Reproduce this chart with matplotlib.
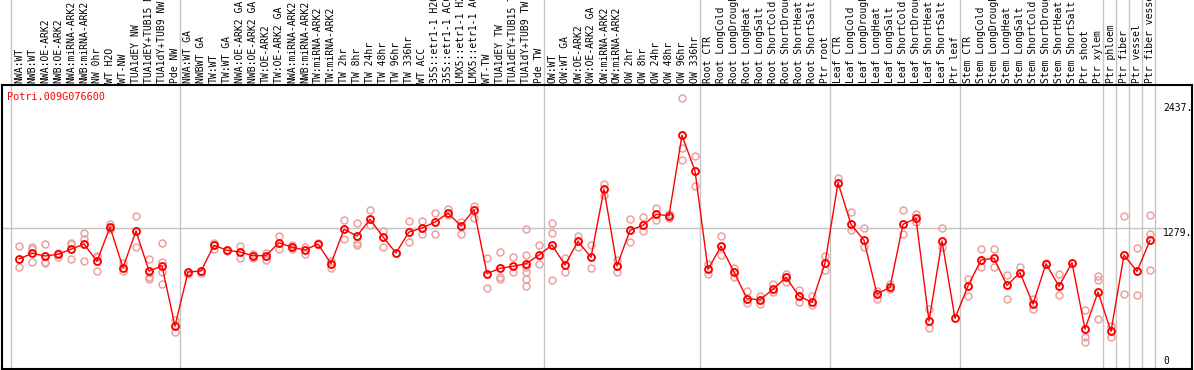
import matplotlib
matplotlib.use("Agg")
import matplotlib.pyplot as plt
import matplotlib.transforms as mtransforms

gene = "Potri.009G076600"

samples = [
    "NWA:WT", "NWB:WT", "NWA:OE-ARK2", "NWB:OE-ARK2", "NWA:miRNA-ARK2", "NWB:miRNA-ARK2",
    "NW 0hr", "WT H2O", "WT-NW", "TUA1dEY NW", "TUA1dEY+TUB15 NW", "TUA1dY+TUB9 NW", "Pde NW",
    "NWA:WT GA", "NWBWT GA", "TW:WT", "TW:WT GA", "NWA:OE-ARK2 GA", "NWB:OE-ARK2 GA",
    "TW:OE-ARK2", "TW:OE-ARK2 GA", "NWA:miRNA-ARK2", "NWB:miRNA-ARK2", "TW:miRNA-ARK2",
    "TW:miRNA-ARK2", "TW 2hr", "TW 8hr", "TW 24hr", "TW 48hr", "TW 96hr", "TW 336hr",
    "WT ACC", "35S::etr1-1 H2O", "35S::etr1-1 ACC", "LMX5::etr1-1 H2O", "LMX5::etr1-1 ACC",
    "WT-TW", "TUA1dEY TW", "TUA1dEY+TUB15 TW", "TUA1dY+TUB9 TW", "Pde TW",
    "OW:WT", "OW:WT GA", "OW:OE-ARK2", "OW:OE-ARK2 GA", "OW:miRNA-ARK2", "OW:miRNA-ARK2",
    "OW 2hr", "OW 8hr", "OW 24hr", "OW 48hr", "OW 96hr", "OW 336hr",
    "Root CTR", "Root LongCold", "Root LongDrought", "Root LongHeat", "Root LongSalt",
    "Root ShortCold", "Root ShortDrought", "Root ShortHeat", "Root ShortSalt", "Ptr root",
    "Leaf CTR", "Leaf LongCold", "Leaf LongDrought", "Leaf LongHeat", "Leaf LongSalt",
    "Leaf ShortCold", "Leaf ShortDrought", "Leaf ShortHeat", "Leaf ShortSalt", "Ptr leaf",
    "Stem CTR", "Stem LongCold", "Stem LongDrought", "Stem LongHeat", "Stem LongSalt",
    "Stem ShortCold", "Stem ShortDrought", "Stem ShortHeat", "Stem ShortSalt",
    "Ptr shoot", "Ptr xylem", "Ptr phloem", "Ptr fiber", "Ptr vessel", "Ptr fiber vessel",
]

expr_mean = [
    995, 1048, 1023, 1039, 1085, 1134, 974, 1291, 915, 1254, 884, 931, 376,
    875, 884, 1122, 1076, 1060, 1026, 1026, 1146, 1103, 1079, 1134, 952, 1270, 1208,
    1362, 1199, 1051, 1245, 1282, 1337, 1418, 1303, 1451, 860, 909, 928, 952, 1032,
    1125, 940, 1159, 1011, 1639, 931, 1261, 1307, 1408, 1396, 2138, 1809,
    900, 1113, 875, 628, 619, 715, 826, 653, 595, 955,
    1701, 1316, 1168, 672, 734, 1316, 1371, 422, 1162, 447,
    746, 986, 1002, 752, 869, 579, 952, 743, 961, 348, 690,
    327, 1032, 881, 1168,
]

expr_reps = [
    [1116, 925], [1103, 1085, 965], [1134, 971, 955], [1054, 1017], [1146, 1134, 992],
    [1233, 1183, 974], [1026, 1017, 881], [1316, 1270], [955, 881], [1393, 1106],
    [992, 832, 811], [1143, 971, 872, 764], [432, 318],
    [857], [863], [1146, 1091], [1066], [1116, 1002], [1042, 1002], [1054, 986],
    [1208, 1091], [1122, 1085], [1109, 1042], [1140], [980, 909], [1353, 1177],
    [1325, 1146, 1125], [1448, 1310], [1254, 1106], [], [1347, 1149], [1347, 1223],
    [1417, 1226], [1454, 1402], [1337, 1226], [1488, 1371], [1005, 724],
    [1057, 832, 807], [1011, 875], [1273, 1032, 925, 878, 807, 746], [1125, 949],
    [1325, 1233, 798], [1008, 872], [1208, 1103], [1125, 909], [1689, 1584],
    [986, 878], [1365, 1149], [1384, 1251], [1470, 1353], [1408, 1374],
    [2483, 2018, 1907], [1947, 1667],
    [952, 860], [1208, 1029], [915, 826], [700, 592], [653, 583], [761, 693],
    [857, 780], [709, 598], [653, 567], [1023, 894],
    [1744], [1430, 1260], [1282, 1109], [700, 629], [764, 715], [1445, 1226],
    [1411, 1337], [530, 358], [1282, 1103], [],
    [814, 653], [1085, 918], [1085, 918], [844, 623], [925], [629, 530], [962],
    [857, 663], [], [524, 278, 231], [838, 801, 444],
    [379, 278], [1393, 672], [1094, 663], [1399, 1223, 891],
]

group_edges = [-0.5, 12.5, 40.5, 52.5, 62.5, 72.5, 83.5, 84.5, 85.5, 86.5, 87.5]
ref_ticks = [0, 1279, 2437]

W, H = 1194, 370
fig = plt.figure(figsize=(W / 100, H / 100), dpi=100)
ax = fig.add_axes([1.5 / W, 1 / H, (1192 - 1.5) / W, (369 - 85) / H])
ax.set_xlim((1.5 - 19) / 13, (1192 - 19) / 13)
ax.set_ylim((366.7 - 369) / 0.1082, (366.7 - 85) / 0.1082)
ax.set_xticks([])
ax.set_yticks([])
for s in ax.spines.values():
    s.set_linewidth(1.5)
    s.set_color("black")

mono = "DejaVu Sans Mono"
grid_c = "#c4c4c4"
trans = mtransforms.blended_transform_factory(ax.transData, ax.transAxes)

# vertical group separators run through the label strip too
for b in group_edges:
    ax.plot([b - 0.12, b - 0.12], [0, 369 / 284], transform=trans, color=grid_c,
            lw=1.0, clip_on=False, zorder=1)
ax.plot([-1.4, 88.0], [ref_ticks[1], ref_ticks[1]], color=grid_c, lw=1.0, zorder=1)

x = list(range(len(samples)))
for i, reps in enumerate(expr_reps):
    ax.plot([i] * len(reps), reps, "o", ms=5, mfc="none", mec="#eea0a0", mew=1.1, zorder=2)
ax.plot(x, expr_mean, "-", color="red", lw=1.0, zorder=3)
ax.plot(x, expr_mean, "o", ms=5, mfc="none", mec="red", mew=1.4, zorder=4)

for i, name in enumerate(samples):
    ax.text(i, 1 + 2 / 284, name, transform=trans, rotation=90, ha="center", va="bottom",
            fontsize=7, family=mono, clip_on=False)

ax.text(0.0046, 0.975, gene, transform=ax.transAxes, color="red", fontsize=7.3,
        family=mono, va="top", ha="left")

ax.text(88.0, ref_ticks[2], "2437.", fontsize=7, family=mono, va="top", ha="left")
ax.text(88.0, ref_ticks[1], "1279.", fontsize=7, family=mono, va="top", ha="left")
ax.text(88.0, 8, "0", fontsize=7, family=mono, va="bottom", ha="left")

fig.savefig("out.png", dpi=100)
